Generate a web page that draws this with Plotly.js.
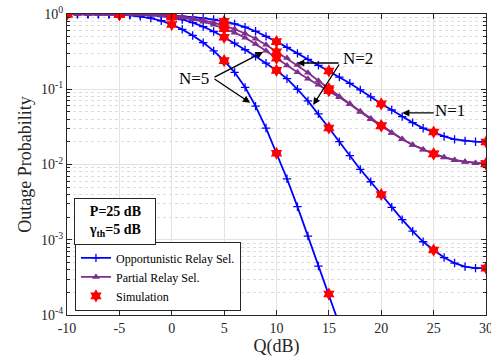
<!DOCTYPE html>
<html>
<head>
<meta charset="utf-8">
<script src="https://cdn.plot.ly/plotly-3.0.1.min.js"></script>
<style>
  html, body { margin: 0; padding: 0; background: #ffffff; }
  #chart { width: 491px; height: 361px; }
</style>
</head>
<body>
<div id="chart"></div>
<script>
// Transmit-power threshold Q in dB, one analytical point per dB
const qAxis = [-10,-9,-8,-7,-6,-5,-4,-3,-2,-1,0,1,2,3,4,5,6,7,8,9,10,
               11,12,13,14,15,16,17,18,19,20,21,22,23,24,25,26,27,28,29,30];

// Opportunistic relay selection, N = 1, 2, 5 (analysis)
const oppN1 = [1.000,0.999,0.999,0.998,0.997,0.995,0.992,0.987,0.980,0.970,0.955,
               0.935,0.910,0.880,0.845,0.800,0.740,0.670,0.590,0.505,0.430,
               0.360,0.300,0.250,0.208,0.175,0.145,0.120,0.098,0.079,0.064,
               0.053,0.0433,0.0360,0.0303,0.0270,0.0236,0.0216,0.0206,0.0201,0.0199];
const oppN2 = [1.000,1.000,0.999,0.998,0.996,0.991,0.987,0.980,0.968,0.945,0.905,
               0.845,0.770,0.680,0.585,0.490,0.410,0.335,0.275,0.222,0.178,
               0.138,0.100,0.070,0.047,0.0306,0.0201,0.0131,0.0086,0.0059,0.0040,
               0.0027,0.00185,0.0013,0.00094,0.00073,0.00058,0.00049,0.00044,0.00042,0.00042];
const oppN5 = [1.000,0.999,0.998,0.995,0.990,0.979,0.959,0.929,0.881,0.813,0.724,
               0.624,0.519,0.417,0.324,0.240,0.168,0.106,0.0596,0.0305,0.0141,
               0.00646,0.00275,0.00112,0.000447,0.000182,0.0000741];

// Partial relay selection, N = 2 and N = 5 (analysis)
const partN2 = [1.000,1.000,0.999,0.999,0.998,0.997,0.994,0.990,0.982,0.970,0.950,
                0.920,0.880,0.830,0.770,0.700,0.630,0.550,0.470,0.390,0.315,
                0.260,0.210,0.166,0.130,0.102,0.080,0.064,0.051,0.041,0.033,
                0.0265,0.0218,0.0183,0.0158,0.0139,0.0125,0.0115,0.0109,0.0105,0.0103];
const partN5 = [1.000,1.000,0.999,0.998,0.997,0.995,0.990,0.984,0.973,0.955,0.930,
                0.895,0.850,0.790,0.720,0.640,0.565,0.485,0.400,0.325,0.258,
                0.207,0.168,0.138,0.115,0.096,0.078,0.063,0.050,0.040,0.0325,
                0.0262,0.0216,0.0182,0.0157,0.0138,0.0124,0.0114,0.0108,0.0104,0.0102];

// Monte-Carlo simulation points, every 5 dB
const qSim = [-10,-5,0,5,10,15,20,25,30];
const simOppN1  = [1.000,0.995,0.955,0.800,0.430,0.175,0.064,0.0270,0.0199];
const simOppN2  = [1.000,0.991,0.905,0.490,0.178,0.0306,0.0040,0.00073,0.00042];
const simOppN5  = [1.000,0.979,0.724,0.240,0.0141,0.000190];
const simPartN2 = [1.000,0.997,0.950,0.700,0.315,0.102,0.033,0.0139,0.0103];
const simPartN5 = [1.000,0.995,0.930,0.640,0.258,0.096,0.0325,0.0138,0.0102];

const BLUE = '#0000ff';
const PURPLE = '#7e2f8e';
const RED = '#ff0000';
const SERIF = '"Liberation Serif", "Times New Roman", serif';

function oppTrace(y, show) {
  return {
    x: qAxis.slice(0, y.length), y: y, type: 'scatter', mode: 'lines+markers',
    name: 'Opportunistic Relay Sel.', showlegend: show, legendgroup: 'opp',
    line: { color: BLUE, width: 1.8 },
    marker: { symbol: 'cross-thin', size: 6, color: BLUE, line: { color: BLUE, width: 1.3 } }
  };
}
function partTrace(y, show) {
  return {
    x: qAxis.slice(0, y.length), y: y, type: 'scatter', mode: 'lines+markers',
    name: 'Partial Relay Sel.', showlegend: show, legendgroup: 'part',
    line: { color: PURPLE, width: 1.8 },
    marker: { symbol: 'triangle-up', size: 7, color: PURPLE }
  };
}
function simTrace(y, show) {
  return {
    x: qSim.slice(0, y.length), y: y, type: 'scatter', mode: 'markers',
    name: 'Simulation', showlegend: show, legendgroup: 'sim',
    marker: { symbol: 'hexagram', size: 10, color: RED, line: { color: RED, width: 0 } }
  };
}

const data = [
  oppTrace(oppN1, true), oppTrace(oppN2, false), oppTrace(oppN5, false),
  partTrace(partN2, true), partTrace(partN5, false),
  simTrace(simOppN1, true), simTrace(simOppN2, false), simTrace(simOppN5, false),
  simTrace(simPartN2, false), simTrace(simPartN5, false)
];

// decade ticks and dotted minor grid positions
const majorVals = [1e-4, 1e-3, 1e-2, 1e-1, 1];
const majorText = ['10<sup>-4</sup>', '10<sup>-3</sup>', '10<sup>-2</sup>', '10<sup>-1</sup>', '10<sup>0</sup>'];
const minorVals = [];
for (let e = -4; e < 0; e++) {
  for (let m = 2; m <= 9; m++) minorVals.push(m * Math.pow(10, e));
}

// arrow helper: tail and head in data units (y in log10)
function arrow(x0, y0, x1, y1) {
  return {
    x: x1, y: y1, ax: x0, ay: y0, xref: 'x', yref: 'y', axref: 'x', ayref: 'y',
    text: '', showarrow: true, arrowhead: 2, arrowsize: 1.1, arrowwidth: 1.3,
    arrowcolor: '#000000', standoff: 0, startstandoff: 0
  };
}
function label(txt, x, y, anchor) {
  return {
    x: x, y: y, xref: 'x', yref: 'y', text: txt, showarrow: false,
    xanchor: anchor, yanchor: 'middle',
    font: { family: SERIF, size: 17, color: '#000000' }
  };
}

const annotations = [
  label('N=5', 3.75, -0.86, 'right'),
  arrow(3.94, -0.85, 8.72, -0.505),
  arrow(3.94, -0.85, 7.48, -1.18),
  label('N=2', 16.2, -0.59, 'left'),
  arrow(16.07, -0.651, 11.97, -0.651),
  arrow(16.07, -0.651, 13.5, -1.208),
  label('N=1', 24.9, -1.28, 'left'),
  arrow(25.15, -1.315, 22.0, -1.315),
  {
    x: -5.42, y: -2.76, xref: 'x', yref: 'y', showarrow: false,
    text: '<b>P=25 dB</b><br><b>γ<sub>th</sub>=5 dB</b>',
    font: { family: SERIF, size: 14, color: '#000000' },
    bordercolor: '#262626', borderwidth: 1, borderpad: 4,
    bgcolor: '#ffffff', width: 72, height: 37, align: 'center'
  }
];

const layout = {
  width: 491, height: 361,
  margin: { l: 67, r: 5, t: 14, b: 46 },
  paper_bgcolor: '#ffffff', plot_bgcolor: '#ffffff',
  font: { family: SERIF, color: '#262626' },
  showlegend: true,
  legend: {
    x: 0.019, y: 0.012, xanchor: 'left', yanchor: 'bottom',
    bgcolor: '#ffffff', bordercolor: '#262626', borderwidth: 1,
    font: { family: SERIF, size: 12, color: '#000000' },
    tracegroupgap: 0, itemwidth: 30
  },
  xaxis: {
    range: [-10, 30], tickmode: 'array', tickvals: [-10, -5, 0, 5, 10, 15, 20, 25, 30],
    ticktext: ['-10', '-5', '0', '5', '10', '15', '20', '25', '30'],
    ticklabeloverflow: 'allow',
    ticks: 'inside', ticklen: 5, tickcolor: '#262626',
    showline: true, linecolor: '#262626', linewidth: 1, mirror: 'ticks',
    showgrid: true, gridcolor: '#e3e3e3', gridwidth: 1, zeroline: false,
    tickfont: { family: SERIF, size: 14, color: '#262626' },
    title: { text: 'Q(dB)', font: { family: SERIF, size: 18, color: '#262626' }, standoff: 2 }
  },
  yaxis: {
    type: 'log', range: [-4, 0], tickmode: 'array', tickvals: majorVals, ticktext: majorText,
    ticks: 'inside', ticklen: 5, tickcolor: '#262626',
    showline: true, linecolor: '#262626', linewidth: 1, mirror: 'ticks',
    showgrid: true, gridcolor: '#e3e3e3', gridwidth: 1, zeroline: false,
    tickfont: { family: SERIF, size: 14, color: '#262626' },
    minor: { tickvals: minorVals, ticks: 'inside', ticklen: 3, tickcolor: '#262626',
             showgrid: true, gridcolor: '#dcdcdc', griddash: 'dot', gridwidth: 1 },
    title: { text: 'Outage Probability', font: { family: SERIF, size: 18, color: '#262626' }, standoff: 4 }
  },
  annotations: annotations
};

Plotly.newPlot('chart', data, layout, { displayModeBar: false, staticPlot: true });
</script>
</body>
</html>
